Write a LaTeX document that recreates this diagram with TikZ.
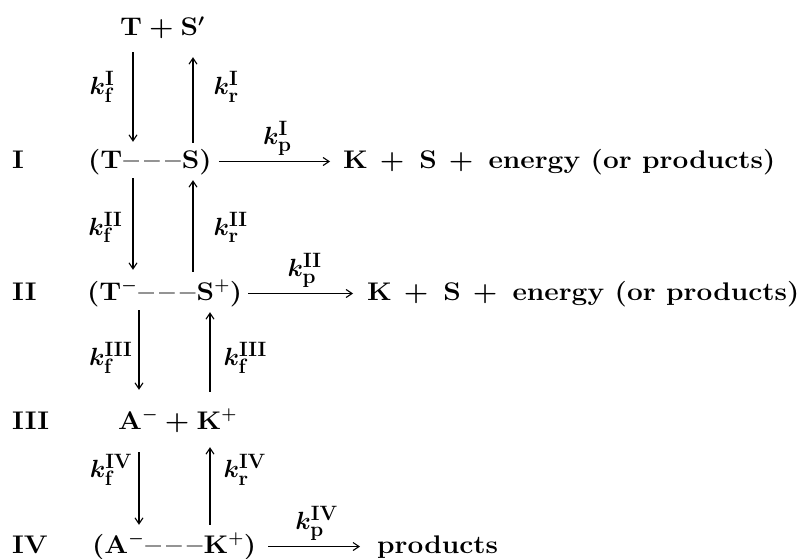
\documentclass[tikz,border=0pt]{standalone}
\usepackage{fontspec}
\setmainfont{Latin Modern Roman}[FakeStretch=1.1]
\usetikzlibrary{arrows.meta}
\newcommand{\dsh}{\hspace{1pt}--\hspace{5pt}--\hspace{5pt}--\hspace{1pt}}
\newcommand{\pls}{\hspace{7pt}+\hspace{7pt}}
\newcommand{\plb}{\hspace{12pt}+\hspace{15pt}}
\begin{document}
\begin{tikzpicture}[x=1pt,y=-1pt,
 txt/.style={inner sep=0pt,font=\fontsize{25.5}{30}\selectfont\bfseries\boldmath,text height=20pt,text depth=7pt,anchor=base west},
 lbl/.style={inner sep=0pt,font=\fontsize{28}{32}\selectfont\bfseries\boldmath},
 arr/.style={-{Straight Barb[length=6pt,width=8pt]},line width=1.1pt}]
\useasboundingbox (0,0) rectangle (809,559);
\coordinate (cA) at (133,0);
\coordinate (cB) at (193,0);
\coordinate (cC) at (139,0);
\coordinate (cD) at (210,0);

\node[txt] (top) at (120,36) {T\pls S$'$};
\node[txt] (n1) at (12,168) {I};
\node[txt] (r1) at (88,168) {(T\dsh S)};
\node[txt] (p1) at (343,168) {K\plb S\plb energy (or products)};
\node[txt] (n2) at (12,300) {II};
\node[txt] (r2) at (87,300) {(T$^{-}$\dsh S$^{+}$)};
\node[txt] (p2) at (367,300) {K\plb S\plb energy (or products)};
\node[txt] (n3) at (12,429) {III};
\node[txt] (r3) at (118,429) {A$^{-}$\pls K$^{+}$};
\node[txt] (n4) at (12,553) {IV};
\node[txt] (r4) at (92,553) {(A$^{-}$\dsh K$^{+}$)};
\node[txt] (p4) at (377,553) {products};

% level I
\draw[arr,shorten <=9pt,shorten >=6pt] (top.south -| cA) -- node[lbl,pos=0.42,left=18pt] {$k^{\mathbf{I}}_{\mathbf{f}}$} (r1.north -| cA);
\draw[arr,shorten <=5pt,shorten >=14pt] (r1.north -| cB) -- node[lbl,pos=0.58,right=20pt] {$k^{\mathbf{I}}_{\mathbf{r}}$} (top.south -| cB);
\draw[arr,shorten <=7pt,shorten >=13pt] (r1.east) -- node[lbl,above=5pt] {$k^{\mathbf{I}}_{\mathbf{p}}$} (p1.west);
% level II
\draw[arr,shorten <=3pt,shorten >=10pt] (r1.south -| cA) -- node[lbl,pos=0.5,left=10pt] {$k^{\mathbf{II}}_{\mathbf{f}}$} (r2.north -| cA);
\draw[arr,shorten <=8pt,shorten >=5pt] (r2.north -| cB) -- node[lbl,pos=0.5,right=20pt] {$k^{\mathbf{II}}_{\mathbf{r}}$} (r1.south -| cB);
\draw[arr,shorten <=6pt,shorten >=14pt] (r2.east) -- node[lbl,above=5pt] {$k^{\mathbf{II}}_{\mathbf{p}}$} (p2.west);
% level III
\draw[arr,shorten <=3pt,shorten >=19pt] (r2.south -| cC) -- node[lbl,pos=0.5,left=6pt] {$k^{\mathbf{III}}_{\mathbf{f}}$} (r3.north -| cC);
\draw[arr,shorten <=17pt,shorten >=5pt] (r3.north -| cD) -- node[lbl,pos=0.5,right=13pt] {$k^{\mathbf{III}}_{\mathbf{f}}$} (r2.south -| cD);
% level IV
\draw[arr,shorten <=16pt,shorten >=8pt] (r3.south -| cC) -- node[lbl,pos=0.35,left=6pt] {$k^{\mathbf{IV}}_{\mathbf{f}}$} (r4.north -| cC);
\draw[arr,shorten <=8pt,shorten >=11pt] (r4.north -| cD) -- node[lbl,pos=0.65,right=13pt] {$k^{\mathbf{IV}}_{\mathbf{r}}$} (r3.south -| cD);
\draw[arr,shorten <=12pt,shorten >=17pt] (r4.east) -- node[lbl,above=5pt] {$k^{\mathbf{IV}}_{\mathbf{p}}$} (p4.west);
\end{tikzpicture}
\end{document}
